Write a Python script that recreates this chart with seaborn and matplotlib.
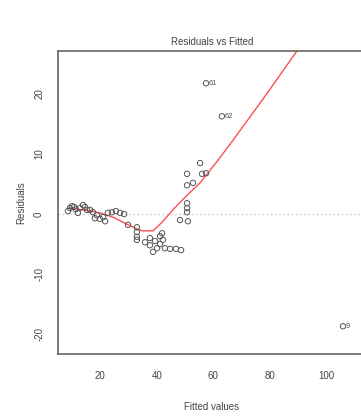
import numpy as np
import pandas as pd
import matplotlib
matplotlib.use("Agg")
import matplotlib.pyplot as plt
import seaborn as sns

# Fitted values and residuals
fitted = [8.7, 9.4, 10.1, 10.8, 11.5, 12.2, 12.9, 14.0, 14.7, 15.4, 16.5, 17.5,
          18.2, 18.9, 20.0, 21.1, 21.8, 22.8, 24.2, 25.6, 27.1, 28.5,
          29.9, 33.0, 33.0, 33.0, 33.0,
          35.9, 37.6, 37.6, 38.7, 39.4, 40.1, 41.2, 41.2, 41.9, 42.2, 42.9,
          44.7, 46.8, 48.6,
          48.2, 51.0, 50.7, 50.7, 50.7, 50.7, 52.8, 50.7, 55.3, 56.0, 57.4,
          57.4, 63.0, 105.7]
resid = [0.5, 1.0, 1.3, 1.2, 0.8, 0.2, 1.0, 1.5, 1.2, 0.7, 0.7, 0.3,
         -0.7, -0.2, -0.8, -0.5, -1.2, 0.2, 0.3, 0.5, 0.2, 0.0,
         -1.8, -2.2, -3.0, -3.8, -4.3,
         -4.7, -4.0, -5.2, -6.3, -4.5, -5.7, -3.7, -5.0, -3.2, -4.3, -5.7,
         -5.8, -5.8, -6.0,
         -1.0, -1.2, 1.8, 1.0, 0.3, 4.8, 5.2, 6.7, 8.5, 6.7, 6.8,
         21.8, 16.3, -18.7]

# labelled observations
lab_x = [57.4, 63.0, 105.7]
lab_y = [21.8, 16.3, -18.7]
lab_txt = ["61", "62", "9"]

# lowess smoother (red)
smooth_x = [9, 14, 20, 25, 29.5, 33, 35, 38.7, 42, 45.7, 50, 55.3, 61, 66.9, 78, 89.5, 95]
smooth_y = [1.0, 0.7, 0.2, -0.6, -1.7, -2.5, -2.8, -2.8, -1.3, 0.7, 2.8, 5.2, 8.6, 12.3, 19.5, 27.2, 31.0]

sns.set_style("white")
plt.rcParams['font.family'] = ['Liberation Sans', 'DejaVu Sans']

df = pd.DataFrame({"fitted": fitted, "resid": resid})
sm = pd.DataFrame({"x": smooth_x, "y": smooth_y})

fig = plt.figure(figsize=(3.61, 4.17), dpi=100)
ax = fig.add_axes([0.1607, 0.151, 0.853, 0.7266])

ax.axhline(0, color="#c8c8c8", lw=1, ls=(0, (1, 2)), zorder=1)
sns.scatterplot(data=df, x="fitted", y="resid", ax=ax, marker="o", s=15,
                facecolor="none", edgecolor="#555555", linewidth=0.7, zorder=3)
sns.lineplot(data=sm, x="x", y="y", ax=ax, color="#ff5050", lw=1.0, zorder=2)

for x, y, t in zip(lab_x, lab_y, lab_txt):
    ax.text(x + 1.0, y, t, fontsize=5.5, color="#555555", va="center", ha="left")

ax.set_xlim(5.19, 113.8)
ax.set_ylim(-23.33, 27.17)
ax.set_xticks([20, 40, 60, 80, 100])
ax.set_yticks([-20, -10, 0, 10, 20])
ax.set_xticklabels(["20", "40", "60", "80", "100"])
ax.set_yticklabels(["-20", "-10", "0", "10", "20"], rotation=90, va="center")

for s in ax.spines.values():
    s.set_color("#666666")
    s.set_linewidth(1.2)
ax.tick_params(axis="x", direction="out", length=5, width=1, color="#666666",
               labelsize=7, labelcolor="#444444", pad=7)
ax.tick_params(axis="y", direction="out", length=5, width=1, color="#666666",
               labelsize=7, labelcolor="#444444", pad=5)

ax.set_title("Residuals vs Fitted", fontsize=7, color="#444444", pad=4)
ax.set_xlabel("Fitted values", fontsize=7, color="#444444", labelpad=15)
ax.set_ylabel("Residuals", fontsize=7, color="#444444", labelpad=6)

fig.savefig("out.png", dpi=100)
